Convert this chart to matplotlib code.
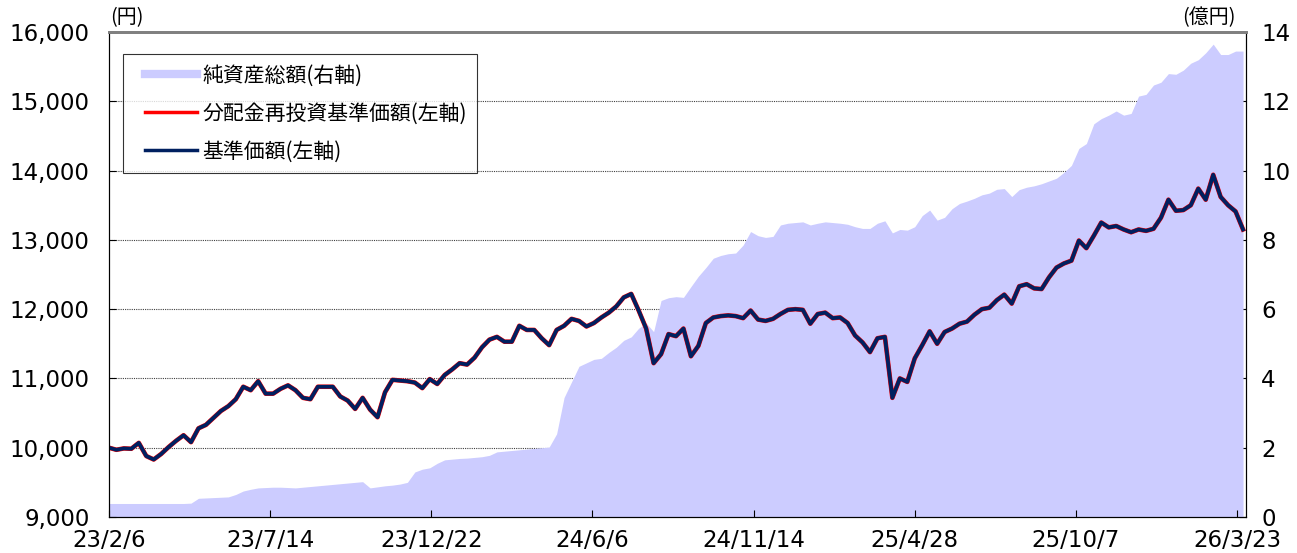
import matplotlib
matplotlib.use("Agg")
import matplotlib.pyplot as plt
from matplotlib.lines import Line2D
from matplotlib.legend_handler import HandlerLine2D
from matplotlib.ticker import FuncFormatter
import numpy as np

plt.rcParams['font.family'] = ['Noto Sans CJK JP', 'DejaVu Sans']

# weekly samples (every 5 business days) from 23/2/6
nav = [10000, 9970, 9990, 9985, 10070, 9880, 9830, 9910, 10010, 10100,
       10180, 10080, 10280, 10330, 10430, 10530, 10600, 10700, 10880, 10830,
       10960, 10780, 10780, 10850, 10900, 10830, 10720, 10700, 10880, 10880,
       10880, 10740, 10680, 10560, 10720, 10550, 10440, 10800, 10980, 10970,
       10960, 10940, 10860, 10990, 10920, 11050, 11130, 11220, 11200, 11300,
       11450, 11560, 11600, 11530, 11530, 11760, 11700, 11700, 11580, 11480,
       11700, 11760, 11860, 11830, 11750, 11800, 11880, 11950, 12040, 12170,
       12220, 11980, 11720, 11220, 11350, 11640, 11610, 11720, 11320, 11470,
       11800, 11880, 11900, 11910, 11900, 11870, 11980, 11850, 11830, 11860,
       11930, 11990, 12000, 11990, 11790, 11930, 11950, 11870, 11880, 11800,
       11620, 11520, 11380, 11580, 11600, 10720, 11000, 10950, 11290, 11480,
       11680, 11500, 11670, 11720, 11790, 11820, 11920, 12000, 12020, 12130,
       12210, 12080, 12330, 12360, 12300, 12290, 12460, 12600, 12660, 12700,
       12990, 12880, 13060, 13250, 13180, 13200, 13150, 13110, 13150, 13130,
       13160, 13320, 13580, 13420, 13430, 13500, 13740, 13580, 13940, 13620,
       13500, 13410, 13150]

# 分配なしのため基準価額と同じ
nav_reinvest = list(nav)

aum = [0.39, 0.39, 0.39, 0.39, 0.39, 0.39, 0.39, 0.39, 0.39, 0.39,
       0.39, 0.40, 0.54, 0.55, 0.56, 0.57, 0.58, 0.65, 0.75, 0.80,
       0.84, 0.85, 0.86, 0.86, 0.85, 0.84, 0.86, 0.88, 0.90, 0.92,
       0.94, 0.96, 0.98, 1.00, 1.02, 0.84, 0.87, 0.90, 0.92, 0.95,
       1.00, 1.30, 1.38, 1.42, 1.55, 1.65, 1.67, 1.69, 1.70, 1.72,
       1.74, 1.78, 1.88, 1.90, 1.92, 1.94, 1.96, 1.98, 2.00, 2.02,
       2.40, 3.45, 3.90, 4.35, 4.45, 4.55, 4.58, 4.75, 4.90, 5.10,
       5.20, 5.45, 5.60, 5.35, 6.25, 6.33, 6.36, 6.34, 6.65, 6.95,
       7.20, 7.47, 7.55, 7.60, 7.62, 7.85, 8.24, 8.12, 8.07, 8.10,
       8.43, 8.48, 8.50, 8.52, 8.43, 8.48, 8.52, 8.50, 8.48, 8.45,
       8.38, 8.33, 8.33, 8.48, 8.55, 8.20, 8.30, 8.28, 8.38, 8.70,
       8.86, 8.57, 8.65, 8.90, 9.05, 9.12, 9.20, 9.30, 9.35, 9.46,
       9.48, 9.25, 9.45, 9.52, 9.56, 9.62, 9.70, 9.78, 9.95, 10.15,
       10.64, 10.78, 11.35, 11.50, 11.60, 11.72, 11.60, 11.65, 12.15, 12.20,
       12.47, 12.55, 12.80, 12.78, 12.90, 13.10, 13.20, 13.40, 13.65, 13.35,
       13.35, 13.45, 13.45]

tick_labels = ["23/2/6", "23/7/14", "23/12/22", "24/6/6",
               "24/11/14", "25/4/28", "25/10/7", "26/3/23"]

days = np.arange(len(nav)) * 5   # business-day index
tick_days = np.arange(len(tick_labels)) * 108

fig = plt.figure(figsize=(12.97, 5.53), dpi=100)
ax = fig.add_axes([0.084, 0.0651, 0.8767, 0.877])
ax2 = ax.twinx()

# area (right axis) with grid behind it
ax2.set_axisbelow(True)
ax2.yaxis.grid(True, linestyle=(0, (1, 1)), color='#404040', linewidth=0.8)
ax2.fill_between(days, aum, 0, color='#CCCCFF', linewidth=0)
ax2.set_ylim(0, 14)
ax2.set_yticks(np.arange(0, 15, 2))

# lines on left axis, above the area
ax.set_zorder(ax2.get_zorder() + 1)
ax.patch.set_visible(False)
ax.plot(days, nav_reinvest, color='#FF0000', linewidth=3.3)
ax.plot(days, nav, color='#002060', linewidth=2.7)
ax.set_ylim(9000, 16000)
ax.set_yticks(np.arange(9000, 16001, 1000))
ax.yaxis.set_major_formatter(FuncFormatter(lambda v, p: f"{int(v):,}"))
ax.set_xlim(0, 762)
ax.set_xticks(tick_days)
ax.set_xticklabels(tick_labels)

for a in (ax, ax2):
    a.tick_params(direction='in', length=5, labelsize=16.5, colors='black')
    for lab in a.get_xticklabels() + a.get_yticklabels():
        lab.set_fontfamily('DejaVu Sans')
    a.spines['top'].set_color('#808080')
    a.spines['top'].set_linewidth(2)
ax.tick_params(axis='y', pad=14)
ax2.tick_params(axis='y', pad=11)
ax.tick_params(axis='x', pad=8.5)

fig.text(0.085, 0.969, "(円)", fontsize=14.4, ha='left', va='center')
fig.text(0.953, 0.969, "(億円)", fontsize=14.4, ha='right', va='center')

handles = [Line2D([], [], color='#CCCCFF', linewidth=6),
           Line2D([], [], color='#FF0000', linewidth=2.5),
           Line2D([], [], color='#002060', linewidth=2.5)]
labels = ["純資産総額(右軸)", "分配金再投資基準価額(左軸)", "基準価額(左軸)"]
leg = ax.legend(handles, labels, loc='upper left', bbox_to_anchor=(0.0123, 0.9546),
                borderaxespad=0, fontsize=15, frameon=True, fancybox=False,
                edgecolor='black', handlelength=3.07, handletextpad=0.25,
                labelspacing=0.77, borderpad=0.5,
                handler_map={Line2D: HandlerLine2D(xpad=0.58)})
leg.get_frame().set_linewidth(0.8)

fig.savefig("out.png", dpi=100)
